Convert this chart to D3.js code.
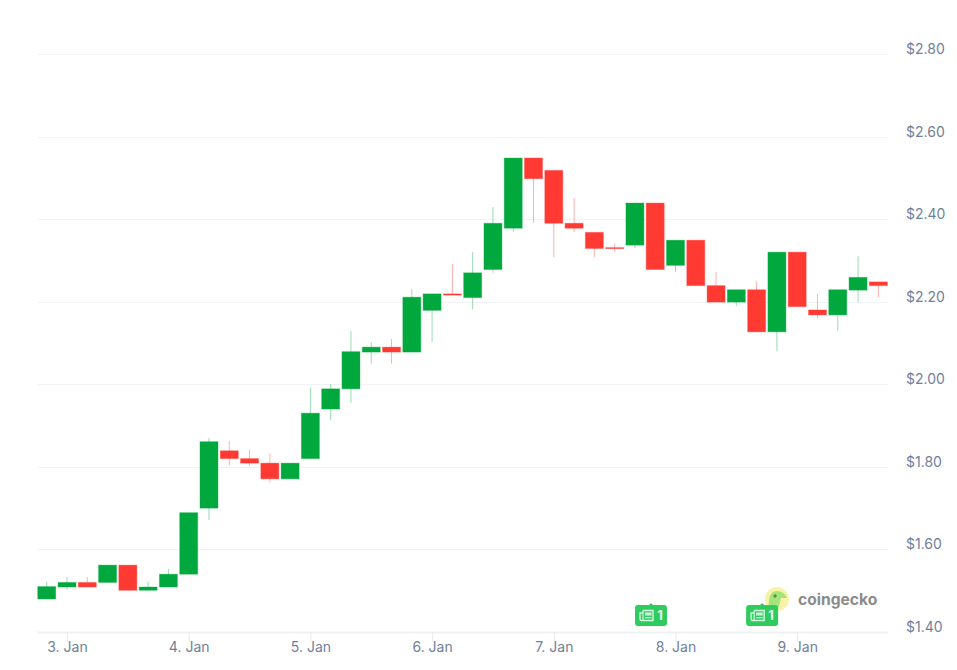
<!DOCTYPE html>
<html>
<head>
<meta charset="utf-8">
<script src="https://cdn.jsdelivr.net/npm/d3@7"></script>
<style>
  html, body { margin: 0; padding: 0; background: #fff; }
  svg { display: block; font-family: Inter, "Noto Sans", sans-serif; }
  .tick text { fill: #71809a; font-size: 14px; font-family: Inter, "Noto Sans", sans-serif; }
  .x-axis .domain { stroke: #eef1f4; stroke-width: 2; }
  .x-axis .tick line { stroke: #e6eaef; }
  .y-axis .domain, .y-axis .tick line { display: none; }
  .grid line { stroke: #f1f2f5; }
</style>
</head>
<body>
<svg id="chart" width="957" height="670"></svg>
<script>
// 4 hour candles, first one starts the evening of 2 Jan
const firstCandle = Date.UTC(2022, 0, 2, 20);
const opens  = [1.480, 1.509, 1.520, 1.520, 1.562, 1.501, 1.509, 1.540, 1.700, 1.839, 1.820, 1.809, 1.771, 1.820, 1.940, 1.989, 2.078, 2.090, 2.078, 2.179, 2.219, 2.210, 2.278, 2.378, 2.548, 2.518, 2.390, 2.368, 2.331, 2.337, 2.439, 2.288, 2.349, 2.239, 2.199, 2.229, 2.127, 2.320, 2.180, 2.168, 2.228, 2.248];
const closes = [1.510, 1.520, 1.509, 1.562, 1.501, 1.509, 1.540, 1.689, 1.861, 1.820, 1.809, 1.771, 1.809, 1.930, 1.989, 2.079, 2.090, 2.078, 2.211, 2.219, 2.216, 2.270, 2.390, 2.548, 2.498, 2.390, 2.378, 2.329, 2.329, 2.439, 2.278, 2.349, 2.239, 2.199, 2.229, 2.127, 2.320, 2.188, 2.168, 2.229, 2.259, 2.239];
const highs  = [1.522, 1.533, 1.533, 1.562, 1.562, 1.522, 1.553, 1.689, 1.870, 1.863, 1.841, 1.833, 1.809, 1.991, 2.001, 2.129, 2.102, 2.110, 2.231, 2.219, 2.291, 2.320, 2.429, 2.548, 2.548, 2.518, 2.451, 2.368, 2.340, 2.439, 2.439, 2.349, 2.349, 2.272, 2.229, 2.250, 2.320, 2.320, 2.219, 2.229, 2.310, 2.248];
const lows   = [1.480, 1.502, 1.509, 1.520, 1.501, 1.501, 1.509, 1.540, 1.671, 1.803, 1.803, 1.762, 1.771, 1.820, 1.913, 1.955, 2.050, 2.050, 2.078, 2.102, 2.216, 2.181, 2.270, 2.369, 2.391, 2.308, 2.369, 2.308, 2.320, 2.330, 2.278, 2.272, 2.239, 2.199, 2.190, 2.127, 2.080, 2.188, 2.159, 2.130, 2.199, 2.211];

const priceTicks = [1.4, 1.6, 1.8, 2.0, 2.2, 2.4, 2.6, 2.8];
const dayTicks = [3, 4, 5, 6, 7, 8, 9];
const newsTimes = [Date.UTC(2022, 0, 7, 19, 10), Date.UTC(2022, 0, 8, 17, 5)];
const newsCounts = [1, 1];

const green = '#00a83e';
const red = '#ff3a33';
const dayMs = 24 * 3600 * 1000;
const candleMs = dayMs / 6;

let svg = d3.select('#chart');

// 3 Jan sits at x=67, one day is about 121.7px
let x = d3.scaleUtc()
  .domain([Date.UTC(2022, 0, 3) - (30 / 121.7) * dayMs, Date.UTC(2022, 0, 3) + (821 / 121.7) * dayMs])
  .range([37, 888]);
let y = d3.scaleLinear().domain([1.4, 2.8]).range([632, 54]);

// gridlines
svg.append('g').attr('class', 'grid')
  .selectAll('line')
  .data(priceTicks.slice(1))
  .join('line')
  .attr('x1', 37)
  .attr('x2', 888)
  .attr('y1', (d) => Math.round(y(d)) + 0.5)
  .attr('y2', (d) => Math.round(y(d)) + 0.5);

// axes
let xAxis = d3.axisBottom(x)
  .tickValues(dayTicks.map((d) => new Date(Date.UTC(2022, 0, d))))
  .tickFormat((d) => `${d.getUTCDate()}. Jan`)
  .tickSize(10)
  .tickSizeOuter(0);
svg.append('g').attr('class', 'x-axis')
  .attr('transform', 'translate(0,632)')
  .call(xAxis)
  .selectAll('text')
  .attr('y', 10);

let yAxis = d3.axisRight(y)
  .tickValues(priceTicks)
  .tickFormat((d) => `$${d.toFixed(2)}`)
  .tickSize(0)
  .tickPadding(18);
// labels sit above their gridline
svg.append('g').attr('class', 'y-axis')
  .attr('transform', 'translate(888,0)')
  .call(yAxis)
  .selectAll('text')
  .attr('y', -5);

// candles
let candleData = opens.map((o, i) => ({
  t: firstCandle + i * candleMs,
  open: o,
  close: closes[i],
  high: highs[i],
  low: lows[i],
}));

let candles = svg.append('g').selectAll('g')
  .data(candleData)
  .join('g');

candles.append('line')
  .attr('x1', (d) => x(d.t))
  .attr('x2', (d) => x(d.t))
  .attr('y1', (d) => y(d.high))
  .attr('y2', (d) => y(d.low))
  .attr('stroke', (d) => (d.close >= d.open ? green : red))
  .attr('stroke-opacity', 0.4);

candles.append('rect')
  .attr('x', (d) => x(d.t) - 9)
  .attr('width', 18)
  .attr('y', (d) => y(Math.max(d.open, d.close)))
  .attr('height', (d) => Math.max(1, Math.abs(y(d.open) - y(d.close))))
  .attr('fill', (d) => (d.close >= d.open ? green : red))
  .attr('stroke', (d) => (d.close >= d.open ? green : red))
  .attr('stroke-opacity', 0.35);

// coingecko mark, sits under the news flags
let logo = svg.append('g').attr('transform', 'translate(777,599)');
logo.append('circle').attr('r', 12).attr('fill', '#f7f2a6');
logo.append('path')
  .attr('d', 'M-8 8 C-9 -2 -6 -8 0 -8 C5 -8 8 -5 10 -1 L4 -1 C3 3 2 7 1 10 C-3 11 -6 10 -8 8Z')
  .attr('fill', '#a3e57a');
logo.append('circle').attr('cx', -2).attr('cy', -3).attr('r', 1.7).attr('fill', '#5d8f4a');
svg.append('text')
  .attr('x', 798)
  .attr('y', 604.5)
  .attr('font-size', 15.6)
  .attr('font-weight', 700)
  .attr('fill', '#8b8b8b')
  .text('coingecko');

// news flags
let flags = svg.append('g').selectAll('g')
  .data(newsTimes)
  .join('g')
  .attr('transform', (d) => `translate(${x(d)},626)`);

flags.append('path')
  .attr('d', 'M-16 -18 a3 3 0 0 1 3 -3 H-2 L0 -23 L2 -21 H13 a3 3 0 0 1 3 3 V-3 a3 3 0 0 1 -3 3 H-13 a3 3 0 0 1 -3 -3Z')
  .attr('fill', '#2ecc5f');
// newspaper icon
flags.append('path')
  .attr('d', 'M-8 -15.5 H2 V-5.5 H-9.5 Q-11 -5.5 -11 -7 V-13 H-8')
  .attr('fill', 'none')
  .attr('stroke', '#d8f7e1')
  .attr('stroke-width', 1.4);
flags.append('path')
  .attr('d', 'M-8 -15.5 V-6')
  .attr('stroke', '#d8f7e1')
  .attr('stroke-width', 1.2);
flags.append('path')
  .attr('d', 'M-6 -13.5 H0.5 V-10.5 H-6Z M-6 -9 H0.5 V-7.7 H-6Z')
  .attr('fill', '#d8f7e1');
flags.append('text')
  .attr('x', 9)
  .attr('y', -6)
  .attr('text-anchor', 'middle')
  .attr('font-size', 13)
  .attr('font-weight', 700)
  .attr('fill', '#e8fbee')
  .text((d, i) => newsCounts[i]);
</script>
</body>
</html>
